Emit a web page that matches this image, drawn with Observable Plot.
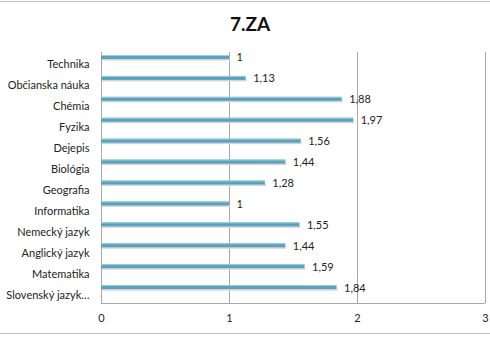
<!DOCTYPE html>
<html>
<head>
<meta charset="utf-8">
<script src="https://cdn.jsdelivr.net/npm/d3@7"></script>
<script src="https://cdn.jsdelivr.net/npm/@observablehq/plot@0.6"></script>
<style>
  html, body { margin: 0; padding: 0; background: #fff; }
  #wrap { position: relative; width: 490px; height: 339px; overflow: hidden; font-family: Lato, "Open Sans", sans-serif; }
  #title { position: absolute; left: 0; width: 500px; top: 12px; text-align: center; font-weight: bold; font-size: 19px; color: #111; }
  .hline { position: absolute; left: 0; width: 490px; height: 1px; background: #bdbdbd; }
</style>
</head>
<body>
<div id="wrap">
  <div class="hline" style="top:1px"></div>
  <div class="hline" style="top:333px"></div>
  <div id="title">7.ZA</div>
  <div id="chart"></div>
</div>
<script>
const subjects = ["Technika", "Občianska náuka", "Chémia", "Fyzika", "Dejepis", "Biológia", "Geografia", "Informatika", "Nemecký jazyk", "Anglický jazyk", "Matematika", "Slovenský jazyk…"];
const values = [1, 1.13, 1.88, 1.97, 1.56, 1.44, 1.28, 1, 1.55, 1.44, 1.59, 1.84];
const xTicks = [0, 1, 2, 3];

const data = subjects.map((s, i) => ({subject: s, value: values[i], label: String(values[i]).replace(".", ",")}));
const band = (339 - 52 - 36) / subjects.length;

const chart = Plot.plot({
  width: 490,
  height: 339,
  marginLeft: 101,
  marginRight: 5,
  marginTop: 52,
  marginBottom: 36,
  style: {fontFamily: "Lato, 'Open Sans', sans-serif", fontSize: "11px", color: "#222", background: "transparent"},
  x: {domain: [0, 3], label: null},
  y: {domain: subjects, paddingInner: 0, paddingOuter: 0, round: false, label: null},
  marks: [
    Plot.axisX({ticks: xTicks, tickFormat: d => String(d), tickSize: 0, tickPadding: 11, label: null}),
    Plot.axisY({tickSize: 0, tickPadding: 12, dy: 2, label: null}),
    Plot.ruleX(xTicks.slice(1), {stroke: "#a8a8a8", strokeWidth: 1}),
    Plot.ruleX([0], {stroke: "#a8a8a8"}),
    Plot.ruleY([subjects[subjects.length - 1]], {stroke: "#a8a8a8", dy: band / 2}),
    Plot.barX(data, {x: "value", y: "subject", fill: "#d4d4d4", insetTop: 6.5, insetBottom: band - 8.5, dx: 1}),
    Plot.barX(data, {x: "value", y: "subject", fill: "#5aa2bc", insetTop: 3, insetBottom: band - 7}),
    Plot.barX(data, {x: "value", y: "subject", fill: "#9ccfde", insetTop: 3, insetBottom: band - 4}),
    Plot.text(data, {x: "value", y: "subject", text: "label", textAnchor: "start", dx: 7, dy: -5, fill: "#222", fontSize: 11})
  ]
});
document.getElementById("chart").appendChild(chart);
</script>
</body>
</html>
